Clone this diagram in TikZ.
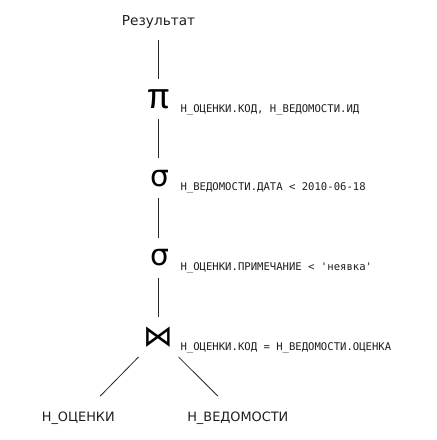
\documentclass[tikz,border=0pt]{standalone}
\usepackage{fontspec}
\setmainfont{DejaVu Sans}
\newfontfamily\monof{DejaVu Sans Mono}
\newfontfamily\pifont{Liberation Mono}
\begin{document}
\begin{tikzpicture}[x=1bp,y=-1bp,
  lbl/.style={font=\fontsize{13bp}{15bp}\selectfont, inner sep=0pt, text=black!88},
  op/.style={font=\fontsize{30bp}{32bp}\selectfont, inner sep=0pt, minimum height=40bp, minimum width=40bp},
  cond/.style={font=\monof\fontsize{10.7bp}{12bp}\selectfont, anchor=west, inner sep=0pt, text=black!88},
  edge/.style={draw=black!85, line width=0.8bp}]
\fill[white] (0,0) rectangle (440,440);
\node[lbl, minimum height=36bp, font=\fontsize{13.8bp}{15bp}\selectfont] (res) at (160,22) {Результат};
\node[op, font=\pifont\fontsize{36bp}{38bp}\selectfont] (pi) at (160,100) {π};
\node[op] (s1) at (161,180) {σ};
\node[op] (s2) at (161,260) {σ};
\node[op, font=\fontsize{30bp}{32bp}\selectfont] (join) at (160,340) {⋈};
\node[cond] (c1) at (182,111) {Н\_ОЦЕНКИ.КОД, Н\_ВЕДОМОСТИ.ИД};
\node[cond] (c2) at (182,190) {Н\_ВЕДОМОСТИ.ДАТА < 2010-06-18};
\node[cond] (c3) at (182,270) {Н\_ОЦЕНКИ.ПРИМЕЧАНИЕ < 'неявка'};
\node[cond] (c4) at (182,351) {Н\_ОЦЕНКИ.КОД = Н\_ВЕДОМОСТИ.ОЦЕНКА};
\node[lbl, minimum height=44bp] (l1) at (79,422) {Н\_ОЦЕНКИ};
\node[lbl, minimum height=44bp] (l2) at (240,422) {Н\_ВЕДОМОСТИ};
\draw[edge] (res.south) -- (pi.north);
\draw[edge] (pi.south) -- (s1.north -| pi.south);
\draw[edge] (s1.south -| pi.south) -- (s2.north -| pi.south);
\draw[edge] (s2.south -| pi.south) -- (join.north);
\draw[edge] (join.south west) -- ([xshift=22bp]l1.north);
\draw[edge] (join.south east) -- ([xshift=-20bp]l2.north);
\end{tikzpicture}
\end{document}
